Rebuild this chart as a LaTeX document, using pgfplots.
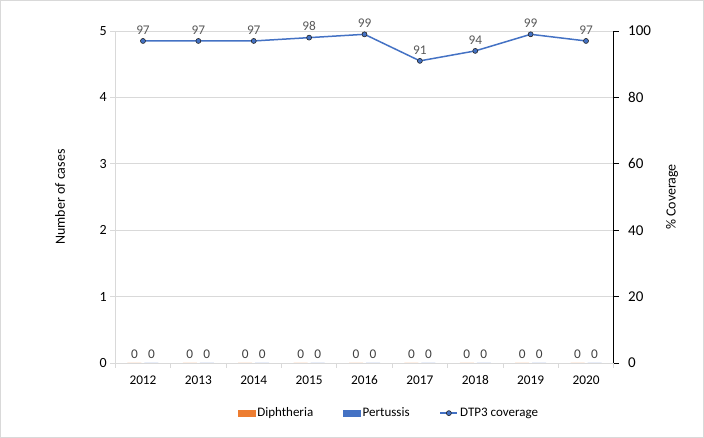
\documentclass[border=0pt]{standalone}
\usepackage{pgfplots}
\pgfplotsset{compat=1.18}
\usepackage{fontspec}
\setmainfont{Carlito}
\definecolor{cOrange}{HTML}{ED7D31}
\definecolor{cBlue}{HTML}{4472C4}
\definecolor{cGrid}{HTML}{D9D9D9}
\definecolor{cLab}{HTML}{595959}
\definecolor{cZero}{HTML}{404040}
\begin{document}
\begin{tikzpicture}[x=1pt,y=1pt]
\draw[cGrid, line width=0.8pt] (0.4,0.4) rectangle (703.6,437.6);
\begin{axis}[
  at={(115.3pt,75pt)}, anchor=south west,
  scale only axis, width=498.4pt, height=332pt,
  xmin=-0.5, xmax=8.5, ymin=0, ymax=5,
  ybar=3pt, bar width=14pt,
  xtick={0,...,8},
  xticklabels={2012,2013,2014,2015,2016,2017,2018,2019,2020},
  minor xtick={-0.5,0.5,...,8.5},
  major x tick style={draw=none},
  minor x tick style={cGrid, line width=0.8pt},
  minor tick length=5pt,
  ytick={0,1,...,5},
  ymajorgrids, grid style={cGrid, line width=0.8pt},
  tick align=outside,
  ytick style={cGrid, line width=0.8pt},
  major tick length=5pt,
  axis line style={cGrid, line width=0.8pt},
  axis x line*=bottom, axis y line*=left,
  tick label style={font=\fontsize{14}{16}\selectfont, text=black},
  xticklabel style={font=\fontsize{13.3}{16}\selectfont, yshift=-4pt},
  /pgf/number format/assume math mode=true,
  ylabel={Number of cases},
  ylabel style={font=\fontsize{14}{16}\selectfont, at={(axis description cs:-0.111,0.5)}, anchor=center},
  nodes near coords,
  every node near coord/.append style={font=\fontsize{13.3}{15}\selectfont, text=cZero, yshift=1pt},
]
\addplot[fill=cOrange, draw=none] coordinates {(0,0) (1,0) (2,0) (3,0) (4,0) (5,0) (6,0) (7,0) (8,0)};
\addplot[fill=cBlue, draw=none] coordinates {(0,0) (1,0) (2,0) (3,0) (4,0) (5,0) (6,0) (7,0) (8,0)};
\end{axis}
\begin{axis}[
  at={(115.3pt,75pt)}, anchor=south west,
  scale only axis, width=498.4pt, height=332pt,
  xmin=-0.5, xmax=8.5, ymin=0, ymax=100,
  axis x line=none,
  axis y line*=right,
  axis line style={black, line width=0.8pt},
  ytick={0,20,...,100},
  tick align=outside, major tick length=5pt,
  ytick style={black, line width=0.8pt},
  tick label style={font=\fontsize{15}{17}\selectfont},
  yticklabel style={xshift=6pt},
  /pgf/number format/assume math mode=true,
  ylabel={\% Coverage},
  ylabel style={font=\fontsize{14}{16}\selectfont, at={(axis description cs:1.117,0.5)}, anchor=center},
  legend style={at={(axis description cs:0.549,-0.151)}, anchor=center, draw=none, fill=none,
    legend columns=3, font=\fontsize{13}{15}\selectfont,
    /tikz/every even column/.append style={column sep=28pt}},
]
\addlegendimage{area legend, fill=cOrange, draw=cOrange}
\addlegendentry{Diphtheria}
\addlegendimage{area legend, fill=cBlue, draw=cBlue}
\addlegendentry{Pertussis}
\addplot[cBlue, line width=1.5pt, mark=*, mark size=2.5pt, mark options={fill=cBlue, draw=black!85, line width=0.6pt},
  nodes near coords, every node near coord/.append style={font=\fontsize{13.3}{15}\selectfont, text=cLab, yshift=3pt}]
  coordinates {(0,97) (1,97) (2,97) (3,98) (4,99) (5,91) (6,94) (7,99) (8,97)};
\addlegendentry{DTP3 coverage}
\end{axis}
\end{tikzpicture}
\end{document}
